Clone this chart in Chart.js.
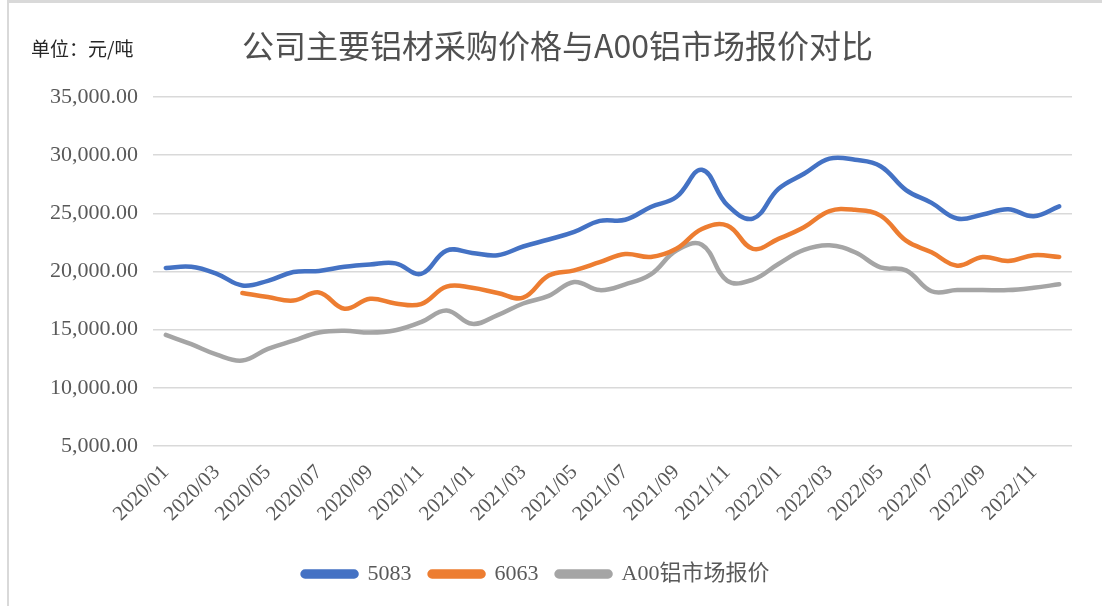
<!DOCTYPE html>
<html>
<head>
<meta charset="utf-8">
<title>公司主要铝材采购价格与A00铝市场报价对比</title>
<script src="https://cdn.jsdelivr.net/npm/chart.js@4.4.1/dist/chart.umd.min.js"></script>
<style>
	body { margin: 0; background: #fff; }
	#wrap { position: relative; width: 1102px; height: 606px; overflow: hidden; }
	#frame { position: absolute; left: 7px; top: 0; width: 1095px; height: 606px; box-sizing: border-box; border-top: 3px solid #d9d9d9; border-left: 2px solid #d9d9d9; }
	#unit { position: absolute; left: 31px; top: 34px; font: 19px 'Noto Sans CJK SC', sans-serif; color: #262626; }
	#title { position: absolute; left: 242px; width: 600px; top: 24px; text-align: center; white-space: nowrap; font: 32px/40px 'Noto Sans CJK SC', sans-serif; color: #505050; }
	#chart { position: absolute; left: 0; top: 0; }
</style>
</head>
<body>
<div id="wrap">
	<div id="frame"></div>
	<canvas id="chart" width="1102" height="606"></canvas>
	<div id="unit">单位：元/吨</div>
	<div id="title">公司主要铝材采购价格与A00铝市场报价对比</div>
</div>
<script>
// months 2020/01 - 2022/12
var months = [];
for (var y = 2020; y <= 2022; y++) {
	for (var m = 1; m <= 12; m++) {
		months.push(y + '/' + (m < 10 ? '0' + m : m));
	}
}

var seriesNames = ['5083', '6063', 'A00铝市场报价'];

var price5083 = [20300, 20400, 19800, 18800, 19200, 19950, 20050, 20400, 20600, 20700, 19800, 21800,
	21600, 21400, 22150, 22750, 23400, 24350, 24450, 25550, 26400, 28750, 25700, 24550,
	27100, 28400, 29700, 29600, 29050, 27000, 25900, 24550, 24900, 25350, 24750, 25600];

var price6063 = [null, null, null, 18150, 17800, 17500, 18200, 16800, 17650, 17250, 17200, 18700,
	18600, 18150, 17750, 19650, 20100, 20800, 21500, 21250, 21950, 23650, 23950, 21950,
	22800, 23800, 25200, 25300, 24800, 22650, 21650, 20500, 21250, 20900, 21400, 21250];

var priceA00 = [14550, 13750, 12850, 12350, 13350, 14050, 14750, 14900, 14750, 14950, 15650, 16650,
	15500, 16250, 17250, 17900, 19100, 18400, 18900, 19750, 21800, 22300, 19200, 19300,
	20650, 21850, 22250, 21650, 20350, 20100, 18300, 18400, 18400, 18400, 18600, 18900];

var yTicks = [5000, 10000, 15000, 20000, 25000, 30000, 35000];

var colors = ['#4472C4', '#ED7D31', '#A5A5A5'];

function makeSet(name, values, color) {
	return {
		label: name,
		data: values,
		borderColor: color,
		backgroundColor: color,
		borderWidth: 4.5,
		borderCapStyle: 'round',
		tension: 0.4,
		pointRadius: 0,
		spanGaps: false
	};
}

var serif = "'Liberation Serif', 'Noto Sans CJK SC', serif";

var ctx = document.getElementById('chart').getContext('2d');
new Chart(ctx, {
	type: 'line',
	data: {
		labels: months,
		datasets: [
			makeSet(seriesNames[0], price5083, colors[0]),
			makeSet(seriesNames[1], price6063, colors[1]),
			makeSet(seriesNames[2], priceA00, colors[2])
		]
	},
	options: {
		responsive: false,
		animation: false,
		devicePixelRatio: 1,
		layout: {
			padding: { left: 0, right: 30, top: 97, bottom: 11 }
		},
		plugins: {
			legend: {
				position: 'bottom',
				labels: {
					color: '#595959',
					font: { family: serif, size: 22 },
					boxWidth: 54,
					boxHeight: 5,
					useBorderRadius: true,
					borderRadius: 2.5,
					padding: 18
				}
			},
			tooltip: { enabled: false }
		},
		scales: {
			x: {
				offset: true,
				grid: { display: false, offset: true },
				border: { display: false },
				ticks: {
					color: '#595959',
					font: { family: serif, size: 21 },
					autoSkip: false,
					maxRotation: 45,
					minRotation: 45,
					padding: 6,
					callback: function (value, index) {
						return index % 2 === 0 ? months[index] : '';
					}
				},
				afterFit: function (scale) {
					scale.height = 99;
				}
			},
			y: {
				min: yTicks[0],
				max: yTicks[yTicks.length - 1],
				grid: { color: '#d9d9d9', lineWidth: 1.5, drawTicks: false },
				border: { display: false },
				afterBuildTicks: function (scale) {
					scale.ticks = yTicks.map(function (v) { return { value: v }; });
				},
				ticks: {
					color: '#595959',
					font: { family: serif, size: 22 },
					padding: 15,
					callback: function (value) {
						return Number(value).toLocaleString('en-US', { minimumFractionDigits: 2, maximumFractionDigits: 2 });
					}
				},
				afterFit: function (scale) {
					scale.width = 153;
				}
			}
		}
	}
});
</script>
</body>
</html>
